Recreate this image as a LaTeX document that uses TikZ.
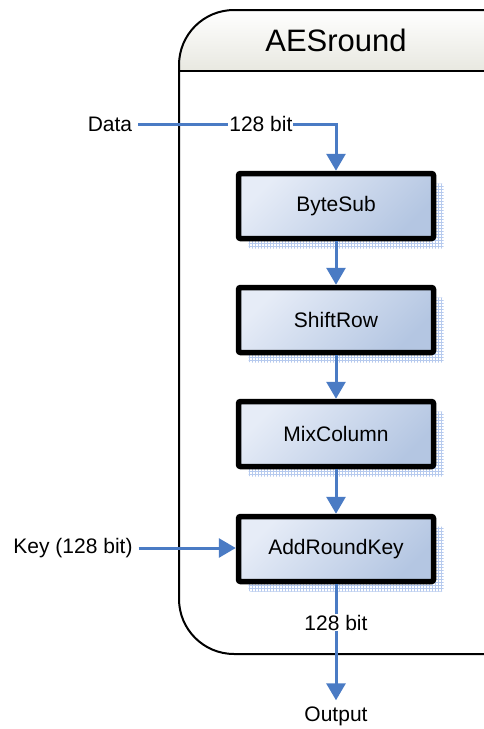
\documentclass[tikz,border=0pt]{standalone}
\usepackage{fontspec}
\setmainfont{Liberation Sans}
\usetikzlibrary{arrows.meta,shadows,patterns}
\definecolor{flowblue}{HTML}{4A7BC4}
\definecolor{boxlight}{HTML}{E6ECF7}
\definecolor{boxdark}{HTML}{B4C6E2}
\definecolor{hatchblue}{HTML}{B6CAEE}
\definecolor{headgray}{HTML}{E8E8E0}
\tikzset{
  stagebox/.style={draw=black,line width=5.5pt,rounded corners=2pt,
    minimum width=195pt,minimum height=65pt,
    left color=boxlight,right color=boxdark,shading angle=45,
    general shadow={shadow xshift=10pt,shadow yshift=-10pt,
      pattern=grid,pattern color=hatchblue},
    font=\fontsize{21}{25}\selectfont},
  flow/.style={draw=flowblue,line width=3pt,-{Triangle[width=19pt,length=17pt]}},
  lbl/.style={font=\fontsize{21}{25}\selectfont,inner sep=2pt},
  bitlbl/.style={lbl,fill=white,inner sep=1pt}
}
\begin{document}
\begin{tikzpicture}[x=1pt,y=-1pt]
\useasboundingbox (0,0) rectangle (484,729);
\clip (0,0) rectangle (484,729);
% round container
\shade[top color=white,bottom color=headgray]
  (179,71) [rounded corners=55pt]-- (179,10) -- (560,10) [sharp corners]-- (560,71) -- cycle;
\draw[line width=2pt,rounded corners=55pt] (179,10) rectangle (560,654);
\draw[line width=2pt] (179,71) -- (560,71);
\node[font=\fontsize{31}{36}\selectfont] (title) at (336,40) {AESround};
% stages
\node[stagebox] (bytesub) at (336,206) {ByteSub};
\node[stagebox] (shiftrow) at (336,320) {ShiftRow};
\node[stagebox] (mixcol) at (336,434) {MixColumn};
\node[stagebox] (addkey) at (336,549) {AddRoundKey};
% inputs and output
\node[lbl,inner xsep=6pt] (data) at (110,124) {Data};
\node[lbl,inner xsep=6pt] (key) at (73,548) {Key (128 bit)};
\node[lbl,inner sep=6pt] (output) at (336,716) {Output};
\draw[flow] (data) -| node[bitlbl,pos=0.31] (inbits) {128 bit} (bytesub);
\draw[flow] (bytesub) -- (shiftrow);
\draw[flow] (shiftrow) -- (mixcol);
\draw[flow] (mixcol) -- (addkey);
\draw[flow] (key.east) -- (addkey.west |- key.east);
\draw[flow] (addkey) -- node[bitlbl,pos=0.33] (outbits) {128 bit} (output);
\end{tikzpicture}
\end{document}
